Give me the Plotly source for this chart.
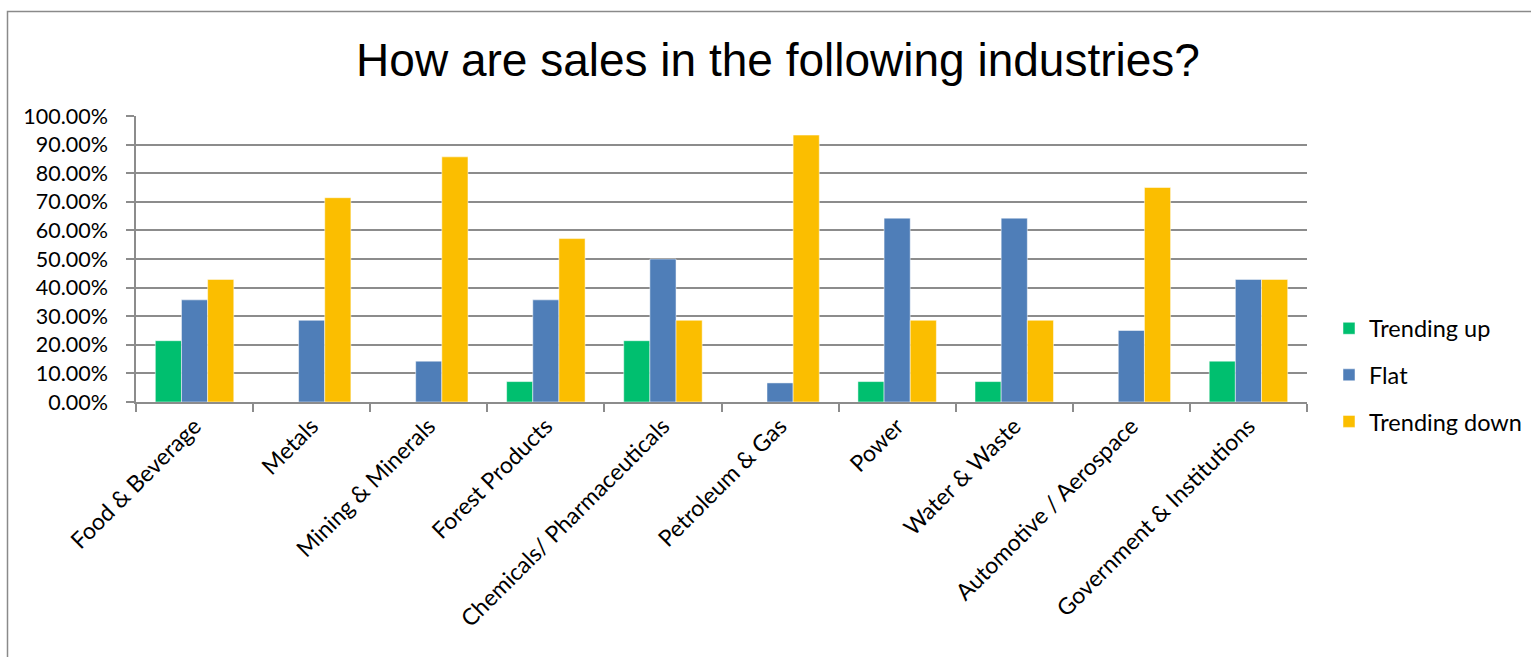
import plotly.graph_objects as go

categories = ["Food & Beverage", "Metals", "Mining & Minerals", "Forest Products",
              "Chemicals/ Pharmaceuticals", "Petroleum & Gas", "Power", "Water & Waste",
              "Automotive / Aerospace", "Government & Institutions"]
trending_up = [0.2143, 0, 0, 0.0714, 0.2143, 0, 0.0714, 0.0714, 0, 0.1429]
flat = [0.3571, 0.2857, 0.1429, 0.3571, 0.50, 0.0667, 0.6429, 0.6429, 0.25, 0.4286]
trending_down = [0.4286, 0.7143, 0.8571, 0.5714, 0.2857, 0.9333, 0.2857, 0.2857, 0.75, 0.4286]
series_names = ["Trending up", "Flat", "Trending down"]
colors = ["#00BF6F", "#4F7EB8", "#FBBE00"]

W, H = 1531, 657
L, R, T, B = 136, 1307, 116, 402

fig = go.Figure()
for i, (name, vals) in enumerate(zip(series_names, [trending_up, flat, trending_down])):
    fig.add_trace(go.Bar(x=categories, y=vals, name=name, marker_color=colors[i],
                         marker_line_color="white", marker_line_width=0.5,
                         legendgroup=name))

def px_x(p):
    return (p - L) / (R - L)

def px_y(p):
    return (B - p) / (B - T)

fig.add_shape(type="rect", xref="paper", yref="paper",
              x0=px_x(7.5), x1=px_x(1540), y0=px_y(11.5), y1=px_y(670),
              line=dict(color="#8a8a8a", width=1.5), fillcolor="rgba(0,0,0,0)", layer="below")

fig.update_layout(
    width=W, height=H,
    margin=dict(l=L, r=W - R, t=T, b=H - B, autoexpand=False),
    paper_bgcolor="white", plot_bgcolor="white",
    barmode="group", bargap=0.33, bargroupgap=0,
    font=dict(family="Lato, 'Open Sans', sans-serif", color="#000000"),
    title=dict(text="How are sales in the following industries?",
               font=dict(family="'Liberation Sans', Arial, sans-serif", size=46, color="#000"),
               x=778 / W, xanchor="center", y=1 - 60 / H, yanchor="middle", yref="container"),
    legend=dict(x=px_x(1329), xanchor="left", y=px_y(375), yanchor="middle",
                font=dict(size=23.5), tracegroupgap=13, traceorder="grouped",
                itemwidth=30, bgcolor="rgba(0,0,0,0)"),
    showlegend=True,
)
fig.update_yaxes(range=[0, 1], dtick=0.1, tickformat=".2%",
                 showgrid=True, gridcolor="#8c8c8c", gridwidth=1.5,
                 showline=True, linecolor="#8c8c8c", linewidth=1.5,
                 ticks="outside", ticklen=8, tickcolor="#8c8c8c", tickwidth=1.5,
                 ticklabelstandoff=14,
                 tickfont=dict(size=21.5), zeroline=False)
fig.update_xaxes(showline=True, linecolor="#8c8c8c", linewidth=1.5,
                 ticks="outside", ticklen=8, tickcolor="#8c8c8c", tickwidth=1.5,
                 tickson="boundaries", tickangle=-45, tickfont=dict(size=23),
                 showgrid=False)

fig.write_html("out.html")
